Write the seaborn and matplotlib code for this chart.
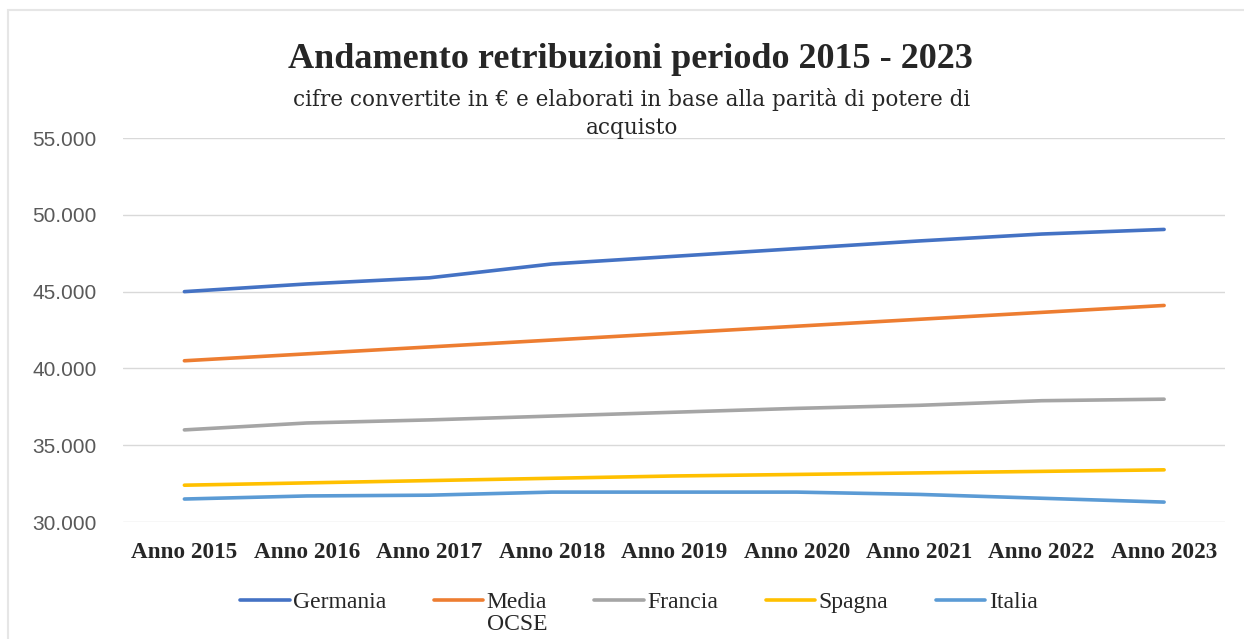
import pandas as pd
import matplotlib.pyplot as plt
import seaborn as sns
from matplotlib.patches import Rectangle

# Dati
anni = ["Anno 2015", "Anno 2016", "Anno 2017", "Anno 2018", "Anno 2019",
        "Anno 2020", "Anno 2021", "Anno 2022", "Anno 2023"]
germania = [45000, 45500, 45900, 46800, 47300, 47800, 48300, 48750, 49050]
media_ocse = [40500, 40950, 41400, 41850, 42300, 42750, 43200, 43650, 44100]
francia = [36000, 36450, 36650, 36900, 37150, 37400, 37600, 37900, 38000]
spagna = [32400, 32550, 32700, 32850, 33000, 33100, 33200, 33300, 33400]
italia = [31500, 31700, 31750, 31950, 31950, 31950, 31800, 31550, 31300]

serie = {
    "Germania": germania,
    "Media": media_ocse,
    "Francia": francia,
    "Spagna": spagna,
    "Italia": italia,
}
colori = ["#4472C4", "#ED7D31", "#A5A5A5", "#FFC000", "#5B9BD5"]

df = pd.DataFrame(
    [(anno, paese, v) for paese, valori in serie.items() for anno, v in zip(anni, valori)],
    columns=["Anno", "Paese", "Valore"],
)

sns.set_theme(style="white")
plt.rcParams["font.family"] = ["Liberation Serif", "DejaVu Serif"]

fig = plt.figure(figsize=(12.44, 6.39), dpi=100)
ax = fig.add_axes([0.099, 0.183, 0.886, 0.601])

sns.lineplot(data=df, x="Anno", y="Valore", hue="Paese", hue_order=list(serie.keys()),
             palette=colori, linewidth=2.6, sort=False, ax=ax)

ax.set_xlim(-0.5, len(anni) - 0.5)
ax.set_ylim(30000, 55000)
ax.set_yticks(range(30000, 55001, 5000))
ax.set_yticklabels([f"{v:,}".replace(",", ".") for v in range(30000, 55001, 5000)],
                   family="Liberation Sans", fontsize=15, color="#595959")
ax.yaxis.grid(True, color="#D9D9D9", linewidth=1)
ax.xaxis.grid(False)
ax.set_axisbelow(True)
for s in ax.spines.values():
    s.set_visible(False)
ax.tick_params(axis="both", length=0)
ax.tick_params(axis="y", pad=19)
ax.tick_params(axis="x", pad=14)
for lab in ax.get_xticklabels():
    lab.set_fontweight("bold")
    lab.set_fontsize(16.7)
ax.set_xlabel("")
ax.set_ylabel("")

fig.text(0.507, 0.907, "Andamento retribuzioni periodo 2015 - 2023",
         ha="center", va="center", fontsize=26, fontweight="bold")
fig.text(0.508, 0.823, "cifre convertite in € e elaborati in base alla parità di potere di\nacquisto",
         ha="center", va="center", fontsize=15.5, family="DejaVu Serif", linespacing=1.35)

handles, labels = ax.get_legend_handles_labels()
leg = ax.legend(handles, labels, loc="upper left", ncol=5, frameon=False, fontsize=17,
                handlelength=2.1, handletextpad=0.15, columnspacing=2.0,
                borderpad=0, borderaxespad=0)
leg.set_bbox_to_anchor((0.193, 0.074), transform=fig.transFigure)
for line in leg.get_lines():
    line.set_linewidth(2.6)

# seconda riga dell'etichetta "Media OCSE", sotto "Media"
fig.canvas.draw()
media_txt = [t for t in leg.get_texts() if t.get_text() == "Media"][0]
bb = media_txt.get_window_extent().transformed(fig.transFigure.inverted())
fig.text(bb.x0, bb.y0 - 0.001, "OCSE", ha="left", va="top", fontsize=17)

fig.patches.append(Rectangle((0.0065, -0.05), 1.1, 1.034, transform=fig.transFigure,
                             fill=False, edgecolor="#E6E6E6", linewidth=1.5))

fig.savefig("out.png", dpi=100)
